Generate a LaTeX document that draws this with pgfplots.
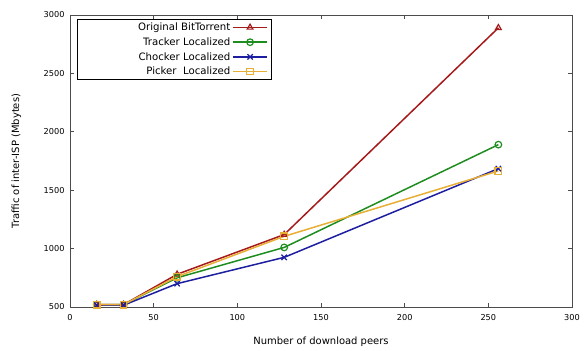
\documentclass[border=0pt]{standalone}
\usepackage{pgfplots}
\pgfplotsset{compat=1.18}
\usepackage{fontspec}
\setmainfont{DejaVu Sans}
\definecolor{cOrig}{HTML}{A51A1A}
\definecolor{cTrack}{HTML}{1E8C1E}
\definecolor{cChock}{HTML}{1E1EA0}
\definecolor{cPick}{HTML}{E8AE35}
\newcommand{\legtxt}[1]{\makebox[148bp][r]{#1}}
\begin{document}
\begin{tikzpicture}[x=1bp,y=1bp]
\begin{axis}[
  name=ax,
  scale only axis,
  width=502bp, height=292bp,
  xmin=0, xmax=300, ymin=500, ymax=3000,
  xtick={0,50,...,300}, ytick={500,1000,...,3000},
  tick align=inside,
  axis line style={black!70, line width=0.8pt},
  major tick style={black!70, line width=0.6pt},
  major tick length=4bp,
  /pgf/number format/assume math mode=true,
  /pgf/number format/set thousands separator={},
  tick label style={font=\fontsize{8.2}{9}\selectfont},
  xticklabel style={yshift=-4bp},
  yticklabel style={xshift=-2bp},
  label style={font=\fontsize{10.4}{12}\selectfont},
  xlabel={Number of download peers},
  ylabel={Traffic of inter-ISP (Mbytes)},
  every axis x label/.style={at={(axis description cs:0.5,-0.118)}, anchor=center},
  every axis y label/.style={at={(axis description cs:-0.107,0.5)}, anchor=center, rotate=90},
  legend cell align=right,
  legend style={at={(0.014,0.986)}, anchor=north west, draw=black, line width=0.6pt,
    font=\fontsize{10.2}{12}\selectfont, row sep=1.5bp, inner xsep=3bp, inner ysep=1.5bp},
  legend image code/.code={\draw[mark repeat=2,mark phase=2] plot coordinates {(0bp,0bp) (17bp,0bp) (34bp,0bp)};},
  legend image post style={line width=1.5pt},
  legend plot pos=right,
  every axis plot/.append style={line width=1.5pt, mark size=3.3bp, mark options={solid, line width=1.2pt, fill=white}},
]
\addplot[color=cOrig, mark=triangle] coordinates {(16,520) (32,520) (64,780) (128,1120) (256,2890)};
\addlegendentry{\legtxt{Original BitTorrent}}
\addplot[color=cTrack, mark=o] coordinates {(16,520) (32,520) (64,750) (128,1010) (256,1890)};
\addlegendentry{\legtxt{Tracker Localized}}
\addplot[color=cChock, mark=x, mark size=3.8bp] coordinates {(16,515) (32,515) (64,700) (128,925) (256,1685)};
\addlegendentry{\legtxt{Chocker Localized}}
\addplot[color=cPick, mark=square] coordinates {(16,520) (32,520) (64,760) (128,1105) (256,1665)};
\addlegendentry{\legtxt{Picker\ \ Localized}}
\end{axis}
\path (ax.south west) ++(-70bp,-44bp) coordinate (bl);
\path (ax.north east) ++(12bp,15bp) coordinate (tr);
\path (bl) rectangle (tr);
\end{tikzpicture}
\end{document}
